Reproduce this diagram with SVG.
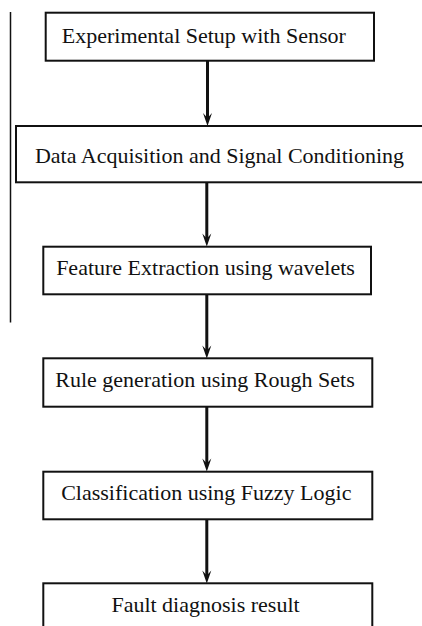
<svg xmlns="http://www.w3.org/2000/svg" width="422" height="626" viewBox="0 0 422 626">
<style>
.box{fill:#fff;stroke:#111;stroke-width:2}
.lbl{font-family:"Liberation Serif","Times New Roman",serif;font-size:22px;fill:#111;text-anchor:middle}
.arr{stroke:#111;stroke-width:3;fill:none}
.head{fill:#111}
</style>
<rect width="422" height="626" fill="#fff"/>
<line x1="10.5" y1="12" x2="10.5" y2="322.5" stroke="#111" stroke-width="1.5"/>
<g id="connectors">
<line class="arr" x1="207.5" y1="61" x2="207.5" y2="120"/>
<polygon class="head" points="207.5,126 203,113 207.5,118 212,113"/>
<line class="arr" x1="206.8" y1="182" x2="206.8" y2="240"/>
<polygon class="head" points="206.8,246.5 202.3,233.5 206.8,238.5 211.3,233.5"/>
<line class="arr" x1="206.8" y1="294" x2="206.8" y2="352"/>
<polygon class="head" points="206.8,358.5 202.3,345.5 206.8,350.5 211.3,345.5"/>
<line class="arr" x1="206.8" y1="407" x2="206.8" y2="465"/>
<polygon class="head" points="206.8,471.5 202.3,458.5 206.8,463.5 211.3,458.5"/>
<line class="arr" x1="206.8" y1="519" x2="206.8" y2="577"/>
<polygon class="head" points="206.8,583.5 202.3,570.5 206.8,575.5 211.3,570.5"/>
</g>
<g id="n1"><rect class="box" x="45.7" y="12.7" width="328.3" height="48"/><text class="lbl" x="203.8" y="43.3">Experimental Setup with Sensor</text></g>
<g id="n2"><rect class="box" x="16" y="126" width="410" height="56.3"/><text class="lbl" x="219.5" y="163.3">Data Acquisition and Signal Conditioning</text></g>
<g id="n3"><rect class="box" x="43.3" y="246.7" width="327.7" height="47.6"/><text class="lbl" x="205.5" y="275">Feature Extraction using wavelets</text></g>
<g id="n4"><rect class="box" x="43.3" y="358.3" width="329" height="48.4"/><text class="lbl" x="205" y="387.3">Rule generation using Rough Sets</text></g>
<g id="n5"><rect class="box" x="43.3" y="471.7" width="329" height="47.6"/><text class="lbl" x="206.3" y="500">Classification using Fuzzy Logic</text></g>
<g id="n6"><rect class="box" x="43.3" y="583.3" width="329" height="60"/><text class="lbl" x="205.5" y="611.7">Fault diagnosis result</text></g>
</svg>
